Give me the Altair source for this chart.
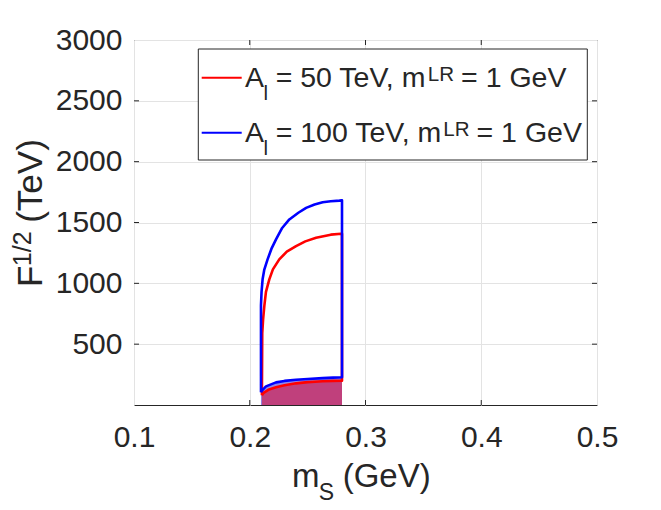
import altair as alt
import pandas as pd

# ---------------- data ----------------
# Blue series: A_l = 100 TeV
blue_bottom_x = [0.2097, 0.2105, 0.2140, 0.2227, 0.2300, 0.2400, 0.2500, 0.2630, 0.2720, 0.2797]
blue_bottom_y = [104, 118, 153, 186, 198, 207, 214, 221, 225, 228]
blue_top_x = [0.2797, 0.2775, 0.2700, 0.2630, 0.2560, 0.2487, 0.2420, 0.2342, 0.2280, 0.2227, 0.2190, 0.2154, 0.2125, 0.2111, 0.2102, 0.2097]
blue_top_y = [1683, 1680, 1675, 1666, 1648, 1620, 1580, 1525, 1455, 1361, 1290, 1197, 1110, 1033, 930, 820]

# Red series: A_l = 50 TeV
red_bottom_x = [0.2105, 0.2120, 0.2160, 0.2227, 0.2300, 0.2400, 0.2500, 0.2630, 0.2720, 0.2797]
red_bottom_y = [80, 100, 125, 145, 162, 178, 188, 195, 198, 200]
red_top_x = [0.2797, 0.2790, 0.2700, 0.2573, 0.2480, 0.2400, 0.2320, 0.2255, 0.2200, 0.2169, 0.2140, 0.2126, 0.2115, 0.2108]
red_top_y = [1407, 1407, 1400, 1375, 1345, 1306, 1260, 1197, 1115, 1033, 930, 814, 700, 590]

x_ticks = [0.1, 0.2, 0.3, 0.4, 0.5]
y_ticks = [500, 1000, 1500, 2000, 2500, 3000]

FONT = "Liberation Sans"
INK = "#262626"
W, H = 463, 365


def polygon(series, bx, by, tx, ty):
    xs = bx + tx + [bx[0]]
    ys = by + ty + [by[0]]
    return pd.DataFrame({"x": xs, "y": ys, "o": list(range(len(xs))), "s": series})


lines_df = pd.concat([
    polygon("red", red_bottom_x, red_bottom_y, red_top_x, red_top_y),
    polygon("blue", blue_bottom_x, blue_bottom_y, blue_top_x, blue_top_y),
])
blue_fill = pd.DataFrame({"x": blue_bottom_x, "y": blue_bottom_y})
red_fill = pd.DataFrame({"x": red_bottom_x, "y": red_bottom_y})

xs = alt.Scale(domain=[0.1, 0.5], nice=False, zero=False)
ys = alt.Scale(domain=[0, 3000], nice=False, zero=False)

base_x = alt.X("x:Q", scale=xs, title=None,
               axis=alt.Axis(values=x_ticks, format=".1f", labelPadding=17,
                             labelFlush=False, labelOverlap=False))
base_y = alt.Y("y:Q", scale=ys, title=None,
               axis=alt.Axis(values=y_ticks, format="d", labelPadding=12,
                             labelFlush=False, labelOverlap=False))

area_blue = alt.Chart(blue_fill).mark_area(color="#8f88e8", opacity=1).encode(
    x=base_x, y=base_y, y2=alt.datum(0))
area_red = alt.Chart(red_fill).mark_area(color="#c0407c", opacity=1).encode(
    x="x:Q", y="y:Q", y2=alt.datum(0))

lines = alt.Chart(lines_df).mark_line(strokeWidth=2.6, strokeJoin="round").encode(
    x="x:Q", y="y:Q", order="o:Q", detail="s:N",
    color=alt.Color("s:N", scale=alt.Scale(domain=["red", "blue"], range=["#ff0000", "#0000ff"]),
                    legend=None))

# inward tick marks on all four sides
xt = pd.DataFrame({"x": x_ticks[1:-1]})
yt = pd.DataFrame({"y": y_ticks[:-1]})
ticks = [
    alt.Chart(xt).mark_rule(color=INK, strokeWidth=1).encode(x="x:Q", y=alt.value(H), y2=alt.value(H - 5)),
    alt.Chart(xt).mark_rule(color=INK, strokeWidth=1).encode(x="x:Q", y=alt.value(0), y2=alt.value(5)),
    alt.Chart(yt).mark_rule(color=INK, strokeWidth=1).encode(y="y:Q", x=alt.value(0), x2=alt.value(5)),
    alt.Chart(yt).mark_rule(color=INK, strokeWidth=1).encode(y="y:Q", x=alt.value(W), x2=alt.value(W - 5)),
]

# ------------- rich text (sub/superscripts) -------------
ARIAL = {"A": .667, "l": .222, " ": .278, "=": .584, "0": .556, "1": .556, "2": .556, "5": .556,
         "T": .611, "e": .556, "V": .667, ",": .278, "m": .833, "L": .556, "R": .722, "G": .778,
         "v": .5, "S": .667, "(": .333, ")": .333, "F": .611, "/": .278}
FIT = 0.975


def tw(s, size):
    return sum(ARIAL.get(c, .556) for c in s) * size * FIT


def piece(s, x, y, size, angle=0):
    return alt.Chart(pd.DataFrame({"t": [s]})).mark_text(
        align="left", baseline="alphabetic", font=FONT, fontSize=size, color=INK, angle=angle
    ).encode(x=alt.value(x), y=alt.value(y), text="t:N")


def rich(parts, x, y, angle=0):
    """parts: list of (text, size, shift) ; shift is raise of baseline in px"""
    out = []
    pos = 0.0
    for text, size, shift in parts:
        lead = len(text) - len(text.lstrip(" "))
        pos += lead * ARIAL[" "] * size * FIT
        t = text.lstrip(" ")
        if angle == 0:
            out.append(piece(t, x + pos, y - shift, size, 0))
        else:
            out.append(piece(t, x - shift, y - pos, size, angle))
        pos += tw(t, size)
    return out


BIG, SMALL = 28.5, 20.5
legend_labels = [("50", "#ff0000", 46.7), ("100", "#0000ff", 101.7)]
legend_layers = [
    alt.Chart(pd.DataFrame({"a": [0]})).mark_rect(fill="white", stroke=INK, strokeWidth=1).encode(
        x=alt.value(64.3), x2=alt.value(453.3), y=alt.value(9), y2=alt.value(120))
]
for val, col, base in legend_labels:
    legend_layers.append(alt.Chart(pd.DataFrame({"a": [0]})).mark_rule(color=col, strokeWidth=2).encode(
        x=alt.value(67.7), x2=alt.value(107.7), y=alt.value(base - 9), y2=alt.value(base - 9)))
    legend_layers += rich([("A", BIG, 0), ("l", SMALL, -13.3),
                           (f" = {val} TeV, m", BIG, 0), ("LR", SMALL, 5.5),
                           (" = 1 GeV", BIG, 0)], 111, base)

xtitle = rich([("m", 33, 0), ("S", 23, -13.3), (" (GeV)", 33, 0)], 158, 446.7)
ytitle = rich([("F", 35, 0), ("1/2", 25, 11), (" (TeV)", 35, 0)], -92.3, 247, angle=270)

chart = alt.layer(area_blue, area_red, *ticks, lines, *legend_layers, *xtitle, *ytitle).properties(
    width=W, height=H,
    padding={"left": 126, "top": 32, "right": 40, "bottom": 100},
    autosize=alt.AutoSizeParams(type="none"),
    background="white",
).configure_view(stroke=INK, strokeWidth=1).configure_axis(
    labelFont=FONT, labelFontSize=30, labelColor=INK, ticks=False, domain=False,
    gridColor="#e3e3e3", gridWidth=1,
)

chart.save("out.html", embed_options={"renderer": "svg", "actions": False})
